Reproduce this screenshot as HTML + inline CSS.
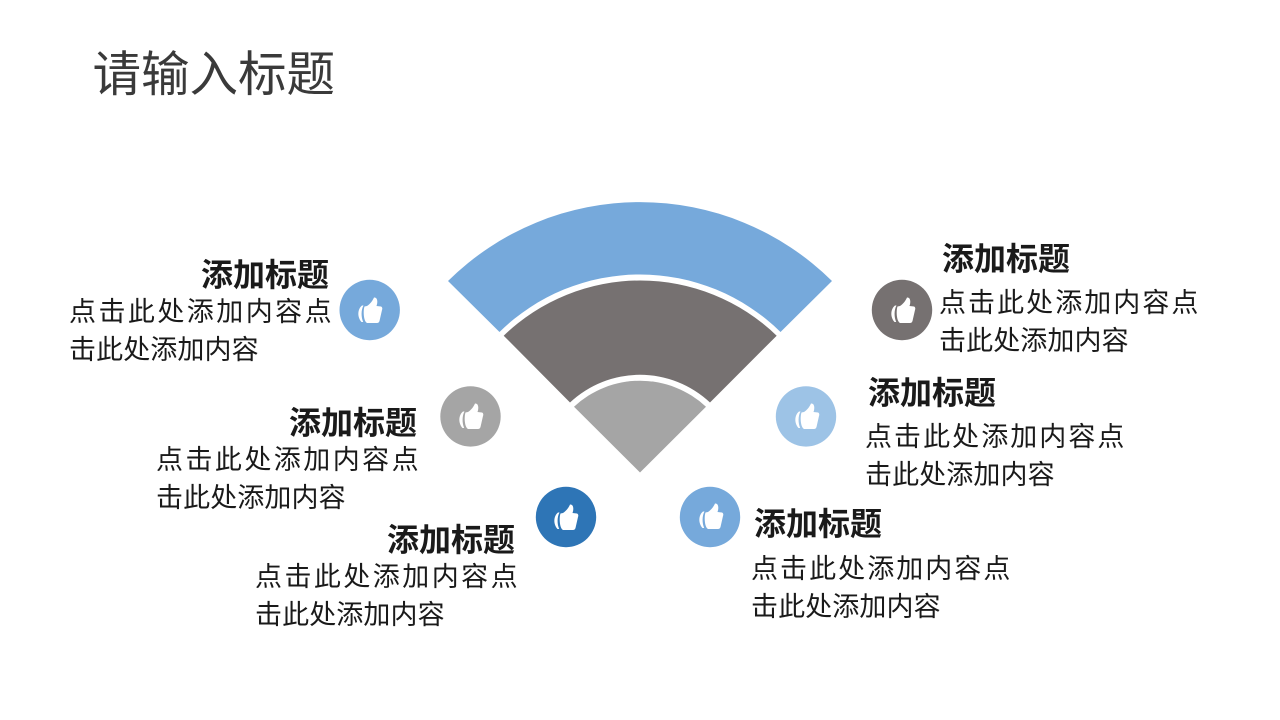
<!DOCTYPE html>
<html lang="zh">
<head>
<meta charset="utf-8">
<style>
html,body{margin:0;padding:0;background:#fff;width:1280px;height:720px;overflow:hidden}
svg{display:block}
text{font-family:"Liberation Sans","Noto Sans CJK SC",sans-serif}
.t{font-size:48.5px;fill:#3a3a3a}
.h{font-size:32px;font-weight:700;fill:#1a1a1a}
.b1{font-size:27px;fill:#1a1a1a;letter-spacing:2.45px}
.b3{font-size:27px;fill:#1a1a1a;letter-spacing:2.05px}
.b2{font-size:27px;fill:#1a1a1a;letter-spacing:.1px}
</style>
</head>
<body>
<svg width="1280" height="720" viewBox="0 0 1280 720" xmlns="http://www.w3.org/2000/svg">
<defs>
<g id="th">
<path d="M-8 -6.500 C-12.500 -3 -13 5 -8.500 10 L-6.800 10 C-9 5 -9 -2 -6.500 -6.500 Z" fill="#fff"/>
<path d="M-5.500 -5.500 L-3 -6 C0 -8 2.500 -11 4 -14.500 C7.500 -15 8 -10 6.500 -6 L11 -5.500 C12.500 -5 12.500 -3 12 -2 L9.500 9 C9 10.500 8 11 7 11 L-3 11 C-6.500 9 -7 -1 -5.500 -5.500 Z" fill="#fff"/>
</g>
</defs>
<rect width="1280" height="720" fill="#fff"/>
<text class="t" x="92.500" y="91">请输入标题</text>

<path d="M448 281 A273 273 0 0 1 832 281 L780.500 332 A200.400 200.400 0 0 0 499.500 332 Z" fill="#76a9db"/>
<path d="M503.700 335.700 A196.400 196.400 0 0 1 776.700 335.700 L710 402.500 A102.300 102.300 0 0 0 570 402.500 Z" fill="#767171"/>
<path d="M574 406.700 A96.800 96.800 0 0 1 706 406.700 L640 472.500 Z" fill="#a5a5a5"/>

<circle cx="369.700" cy="310" r="30.200" fill="#76a9db"/><use href="#th" x="370" y="312"/>
<circle cx="470.500" cy="416.400" r="30.200" fill="#a5a5a5"/><use href="#th" x="471" y="418"/>
<circle cx="566" cy="517" r="30.200" fill="#2e75b6"/><use href="#th" x="566" y="519"/>
<circle cx="902" cy="310" r="30.200" fill="#767171"/><use href="#th" x="903" y="312"/>
<circle cx="806" cy="416.400" r="30.200" fill="#9dc3e6"/><use href="#th" x="807" y="418"/>
<circle cx="710" cy="517" r="30.200" fill="#76a9db"/><use href="#th" x="711" y="518"/>

<text class="h" x="329" y="286" text-anchor="end">添加标题</text>
<text class="b1" x="69" y="321">点击此处添加内容点</text>
<text class="b2" x="69" y="359">击此处添加内容</text>

<text class="h" x="417" y="434" text-anchor="end">添加标题</text>
<text class="b1" x="156" y="469">点击此处添加内容点</text>
<text class="b2" x="156" y="507">击此处添加内容</text>

<text class="h" x="515" y="551" text-anchor="end">添加标题</text>
<text class="b1" x="255" y="586">点击此处添加内容点</text>
<text class="b2" x="255" y="624">击此处添加内容</text>

<text class="h" x="942" y="270">添加标题</text>
<text class="b3" x="939" y="312">点击此处添加内容点</text>
<text class="b2" x="939" y="350">击此处添加内容</text>

<text class="h" x="868" y="404">添加标题</text>
<text class="b3" x="865" y="446">点击此处添加内容点</text>
<text class="b2" x="865" y="484">击此处添加内容</text>

<text class="h" x="754" y="535">添加标题</text>
<text class="b3" x="751" y="578">点击此处添加内容点</text>
<text class="b2" x="751" y="616">击此处添加内容</text>
</svg>
</body>
</html>
